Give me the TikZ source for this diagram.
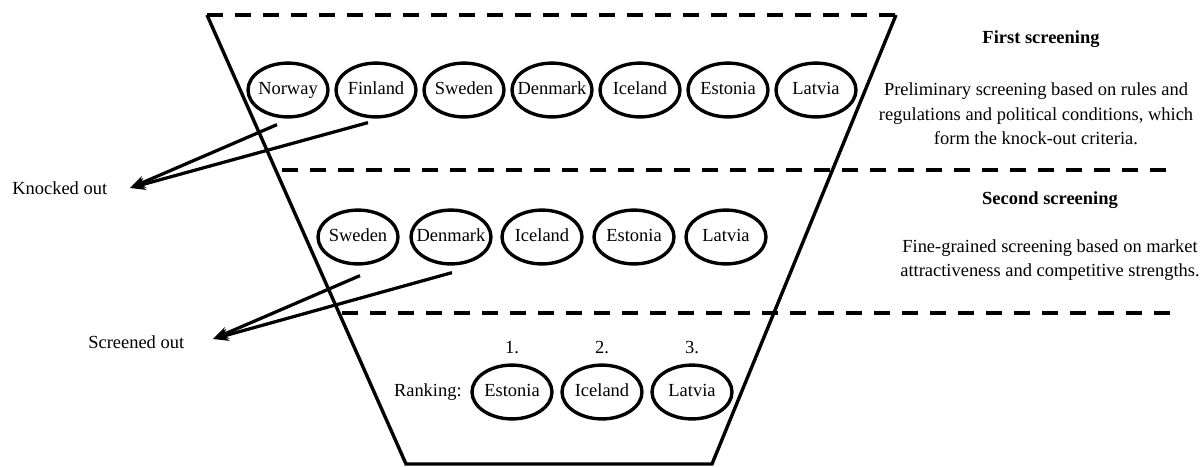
\documentclass[tikz,border=0pt]{standalone}
\usepackage{fontspec}
\setmainfont{Liberation Serif}
\usetikzlibrary{shapes.geometric}
\usetikzlibrary{arrows.meta}

\begin{document}
\begin{tikzpicture}[x=0.65pt,y=-0.65pt,
       country/.style={ellipse,draw,line width=2.2pt,minimum width=52pt,minimum height=35pt,inner xsep=-4pt,inner ysep=0pt,text height=8.5pt,text depth=2.5pt,font=\fontsize{12}{14}\selectfont},
       cut/.style={line width=2.8pt,dash pattern=on 10.4pt off 7.8pt},
       side/.style={line width=2.2pt},
       outarrow/.style={line width=2.1pt,-{Stealth[length=10pt,width=8pt]}},
       txt/.style={inner sep=0pt,font=\fontsize{12}{16}\selectfont,align=center}]
       
       \useasboundingbox (0,0) rectangle (1204,466);
       
       %漏斗
       \coordinate (tl) at (207,15);
       \coordinate (tr) at (896,15);
       \coordinate (br) at (712,464);
       \coordinate (bl) at (406,464);
       \draw[side] (tl) -- (bl) -- (br) -- (tr);
       \draw[cut] (tl) -- (tr);
       \draw[cut] (282,170) -- (1178,170);
       \draw[cut] (342,313) -- (1178,313);
       
       %第一轮
       \foreach \c/\x in {Norway/288,Finland/376,Sweden/464,Denmark/552,Iceland/640,Estonia/728,Latvia/816}  {
       	\node[country] (a\c) at (\x,90) {\c};
       }
       
       %第二轮
       \foreach \c/\x in {Sweden/358,Denmark/451,Iceland/542,Estonia/634,Latvia/726}  {
       	\node[country] (b\c) at (\x,237) {\c};
       }
       
       %排名
       \foreach \c/\x/\n in {Estonia/512/1,Iceland/602/2,Latvia/692/3}  {
       	\node[country] (c\c) at (\x,392) {\c};
       	\node[txt] (rank\n) at (\x,348) {\n.};
       }
       \node[txt,anchor=east] (ranking) at (462,392) {Ranking:};
       
       %淘汰
       \node[txt,anchor=west] (knocked) at (12,188) {Knocked out};
       \node[txt,anchor=west] (screened) at (88,342) {Screened out};
       \coordinate (knocktip) at (130,188);
       \coordinate (screentip) at (213,339);
       \draw[outarrow] ([shift={(-11,6)}]aNorway.south) -- (knocktip);
       \draw[outarrow] ([shift={(-8,4)}]aFinland.south) -- (knocktip);
       \draw[outarrow] ([shift={(2,10)}]bSweden.south) -- (screentip);
       \draw[outarrow] ([shift={(1,7)}]bDenmark.south) -- (screentip);
       
       %说明
       \node[txt] (first) at (1041,39) {\textbf{First screening}};
       \node[txt] (firsttext) at (1036,114) {Preliminary screening based on rules and\\regulations and political conditions, which\\form the knock-out criteria.};
       \node[txt] (second) at (1050,200) {\textbf{Second screening}};
       \node[txt] (secondtext) at (1050,260) {Fine-grained screening based on market\\attractiveness and competitive strengths.};
       
\end{tikzpicture}
\end{document}
